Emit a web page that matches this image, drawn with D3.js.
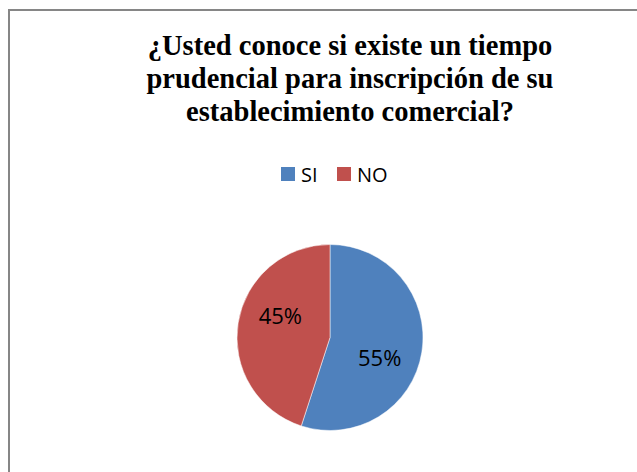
<!DOCTYPE html>
<html>
<head>
<meta charset="utf-8">
<script src="https://cdn.jsdelivr.net/npm/d3@7"></script>
<style>
  body { margin: 0; background: #fff; }
  svg { display: block; }
</style>
</head>
<body>
<div id="chart"></div>
<script>
// data
var categories = ["SI", "NO"];
var values = [55, 45];
var colors = ["#4f81bd", "#c0504d"];
var titleLines = ["¿Usted conoce si existe un tiempo", "prudencial para inscripción de su", "establecimiento comercial?"];

var serifFont = "'Liberation Serif'";
var sansFont = "'Open Sans'";

var W = 637, H = 472;
var svg = d3.select("#chart").append("svg")
  .attr("width", W)
  .attr("height", H);

// chart frame (only left and top edges are visible in the crop)
svg.append("path")
  .attr("d", "M9,472 L9,10 L637,10")
  .attr("fill", "none")
  .attr("stroke", "#868686")
  .attr("stroke-width", 2);

// title, one text element per line
svg.selectAll("text.title")
  .data(titleLines)
  .enter().append("text")
  .attr("class", "title")
  .attr("x", 350)
  .attr("y", function(d, i) { return 54.5 + i * 33; })
  .attr("text-anchor", "middle")
  .style("font-family", serifFont)
  .style("font-weight", "bold")
  .style("font-size", "28.5px")
  .attr("fill", "#000")
  .text(function(d) { return d; });

// legend
var legendX = [281, 337];
var legend = svg.selectAll("g.legend")
  .data(categories)
  .enter().append("g")
  .attr("class", "legend")
  .attr("transform", function(d, i) { return "translate(" + legendX[i] + ",167)"; });
legend.append("rect")
  .attr("width", 14)
  .attr("height", 14)
  .attr("fill", function(d, i) { return colors[i]; });
legend.append("text")
  .attr("x", 20)
  .attr("y", 14.5)
  .style("font-family", sansFont)
  .style("font-size", "20px")
  .attr("fill", "#000")
  .text(function(d) { return d; });

// pie
var cx = 330, cy = 337.5, r = 93;
var pie = d3.pie().sort(null).value(function(d) { return d; });
var arc = d3.arc().innerRadius(0).outerRadius(r);

var g = svg.append("g").attr("transform", "translate(" + cx + "," + cy + ")");
var slices = pie(values);
g.selectAll("path")
  .data(slices)
  .enter().append("path")
  .attr("d", arc)
  .attr("fill", function(d, i) { return colors[i]; })
  .attr("stroke", "#fff")
  .attr("stroke-width", 0.5);

// labels sit a little clockwise of the slice middle, as in the original
var labelShift = 14 * Math.PI / 180, labelR = r * 0.58;
g.selectAll("text.lbl")
  .data(slices)
  .enter().append("text")
  .attr("class", "lbl")
  .attr("transform", function(d) {
    var a = (d.startAngle + d.endAngle) / 2 + labelShift;
    return "translate(" + (labelR * Math.sin(a)) + "," + (-labelR * Math.cos(a)) + ")";
  })
  .attr("text-anchor", "middle")
  .attr("dy", "0.35em")
  .style("font-family", sansFont)
  .style("font-size", "22px")
  .attr("fill", "#000")
  .text(function(d) { return d.value + "%"; });
</script>
</body>
</html>
